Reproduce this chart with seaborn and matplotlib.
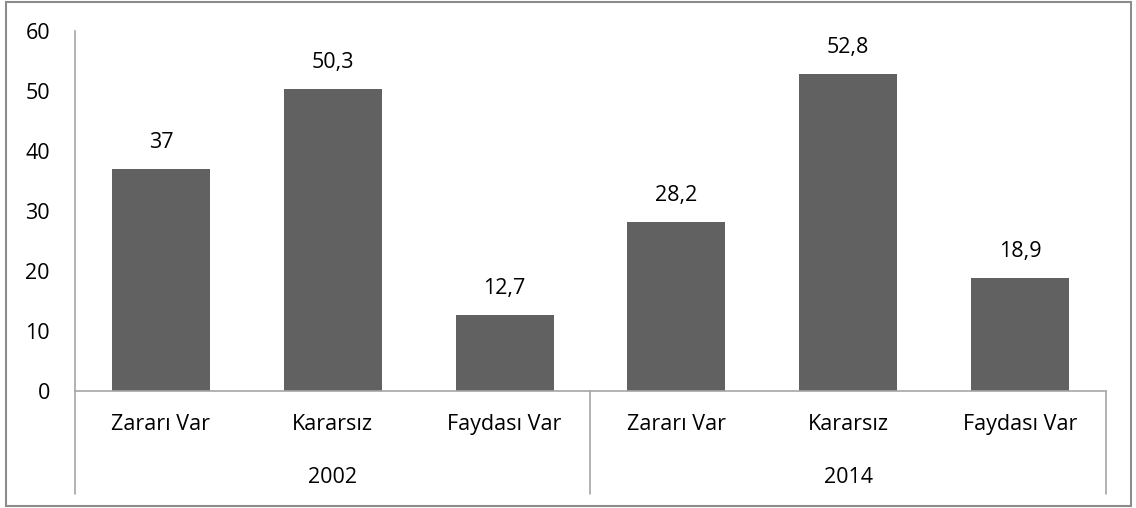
import pandas as pd
import seaborn as sns
import matplotlib.pyplot as plt
from matplotlib.patches import Rectangle

# Veriler
years = ['2002', '2014']
answers = ['Zararı Var', 'Kararsız', 'Faydası Var']
values_2002 = [37, 50.3, 12.7]
values_2014 = [28.2, 52.8, 18.9]

rows = []
for year, vals in zip(years, [values_2002, values_2014]):
    for ans, v in zip(answers, vals):
        rows.append({'Yil': year, 'Cevap': ans, 'Deger': v, 'Etiket': year + '|' + ans})
df = pd.DataFrame(rows)

sns.set_style('white')
plt.rcParams['font.family'] = ['Open Sans', 'DejaVu Sans']
FS = 15.5

fig = plt.figure(figsize=(11.36, 5.08), dpi=100)
ax = fig.add_axes([75 / 1136, 1 - 391 / 508, (1106 - 75) / 1136, 360 / 508])

sns.barplot(data=df, x='Etiket', y='Deger', color='#616161', width=0.57,
            saturation=1, ax=ax, edgecolor='none')

# Değer etiketleri
for i, v in enumerate(df['Deger']):
    txt = f'{v:g}'.replace('.', ',')
    ax.annotate(txt, (i, v), xytext=(0, 19), textcoords='offset points',
                ha='center', va='center', fontsize=FS, color='black')

ax.set_ylim(0, 60)
ax.set_yticks(range(0, 61, 10))
ax.set_xlim(-0.5, 5.5)
ax.set_xticks(range(len(df)))
ax.set_xticklabels([])
ax.set_xlabel('')
ax.set_ylabel('')
ax.tick_params(axis='y', length=0, pad=18, labelsize=FS, labelcolor='black')
ax.tick_params(axis='x', length=0)

for side in ['top', 'right']:
    ax.spines[side].set_visible(False)
for side in ['left', 'bottom']:
    ax.spines[side].set_color('#a6a6a6')
    ax.spines[side].set_linewidth(1.2)

# Çok seviyeli kategori ekseni
trans = ax.get_xaxis_transform()
for i, ans in enumerate(df['Cevap']):
    ax.text(i, -0.094, ans, transform=trans, ha='center', va='center',
            fontsize=FS, color='black')
for g, year in enumerate(years):
    ax.text(g * 3 + 1, -0.239, year, transform=trans, ha='center', va='center',
            fontsize=FS, color='black')
for xs in [-0.5, 2.5, 5.5]:
    ax.plot([xs, xs], [0, -0.286], transform=trans, color='#a6a6a6',
            lw=1.2, clip_on=False)

# Dış çerçeve
fig.patches.append(Rectangle((6 / 1136, 2 / 508), 1125 / 1136, 504 / 508,
                             transform=fig.transFigure, fill=False,
                             edgecolor='#8c8c8c', lw=1.5))

fig.savefig('out.png', dpi=100)
